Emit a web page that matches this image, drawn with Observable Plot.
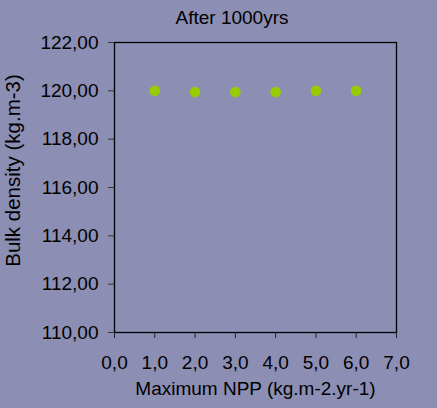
<!DOCTYPE html>
<html>
<head>
<meta charset="utf-8">
<script src="https://cdn.jsdelivr.net/npm/d3@7"></script>
<script src="https://cdn.jsdelivr.net/npm/@observablehq/plot@0.6"></script>
<style>
  html, body { margin: 0; padding: 0; background: #8c8eb4; }
  #chart { position: relative; width: 437px; height: 408px; }
  #title {
    position: absolute; top: 7px; left: 0; width: 464px; text-align: center;
    font-family: "Liberation Sans", Arial, sans-serif; font-size: 19px; color: #000;
  }
</style>
</head>
<body>
<div id="chart"><div id="title">After 1000yrs</div></div>
<script>
// Maximum NPP (kg.m-2.yr-1) and resulting bulk density (kg.m-3) after 1000 years
const npp = [1, 2, 3, 4, 5, 6];
const bulkDensity = [120.0, 119.95, 119.95, 119.95, 120.0, 120.0];
const xTicks = [0, 1, 2, 3, 4, 5, 6, 7];
const yTicks = [110, 112, 114, 116, 118, 120, 122];

const data = npp.map((x, i) => ({x, y: bulkDensity[i]}));
const comma = (v, d) => v.toFixed(d).replace(".", ",");

const plot = Plot.plot({
  width: 437,
  height: 408,
  marginTop: 42,
  marginLeft: 114,
  marginRight: 41,
  marginBottom: 76,
  style: {
    background: "transparent",
    fontFamily: "'Liberation Sans', Arial, sans-serif",
    fontSize: "19px",
    color: "#000"
  },
  x: {domain: [0, 7]},
  y: {domain: [110, 122]},
  marks: [
    Plot.frame({stroke: "#000", strokeWidth: 1.3}),
    Plot.axisX({
      ticks: xTicks, tickFormat: d => comma(d, 1), tickSize: 6, tickPadding: 17,
      label: null, stroke: "#222"
    }),
    Plot.axisY({
      ticks: yTicks, tickFormat: d => comma(d, 2), tickSize: 6, tickPadding: 10,
      label: null, stroke: "#333"
    }),
    Plot.text(["Maximum NPP (kg.m-2.yr-1)"], {
      frameAnchor: "bottom", dy: 62, fontSize: 19, fill: "#000"
    }),
    Plot.text(["Bulk density (kg.m-3)"], {
      frameAnchor: "left", textAnchor: "middle", rotate: -90, dx: -101, dy: -17,
      fontSize: 20.5, fill: "#000"
    }),
    Plot.dot(data, {x: "x", y: "y", r: 5.3, fill: "#99cc00", stroke: "none"})
  ]
});
document.getElementById("chart").appendChild(plot);
</script>
</body>
</html>
